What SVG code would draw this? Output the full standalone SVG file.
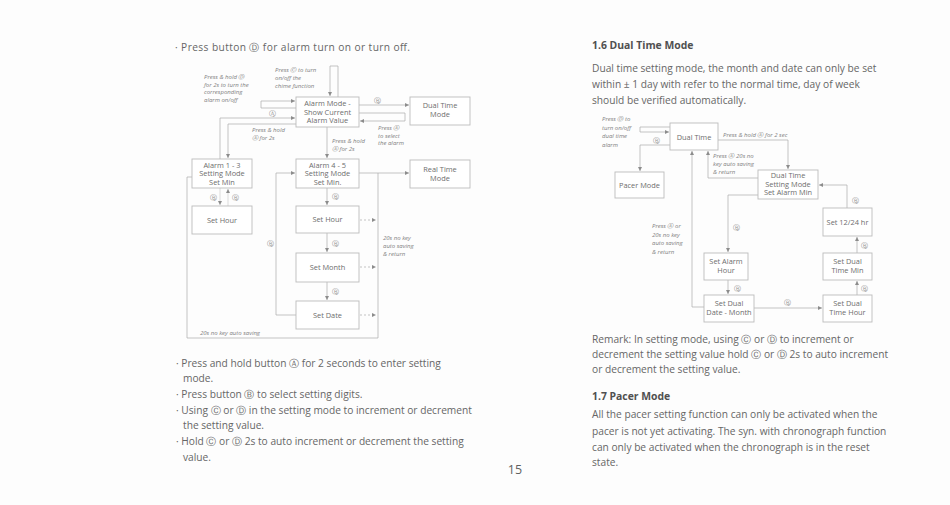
<svg xmlns="http://www.w3.org/2000/svg" width="950" height="505" viewBox="0 0 950 505">
<defs>
<marker id="ah" viewBox="0 0 6 6" refX="6" refY="3" markerWidth="4" markerHeight="4" markerUnits="userSpaceOnUse" orient="auto"><path d="M0,0 L6,3 L0,6 z" fill="#8c8c8c"/></marker>
<style>
.body{font-family:"Open Sans","Noto Sans","DejaVu Sans",sans-serif;font-size:10.2px;fill:#666666}
.h{font-family:"Open Sans","Noto Sans","DejaVu Sans",sans-serif;font-size:10.4px;font-weight:bold;fill:#505050}
.pn{font-family:"Open Sans","Noto Sans",sans-serif;font-size:12.5px;fill:#606060}
.box{fill:#ffffff;stroke:#bcbcbc;stroke-width:0.9}
.bt{font-family:"Open Sans","Noto Sans","DejaVu Sans",sans-serif;font-size:7.4px;fill:#6e6e6e;text-anchor:middle}
.lb{font-family:"Open Sans","Noto Sans","DejaVu Sans",sans-serif;font-size:6px;font-style:italic;fill:#808080}
.ck{font-family:"DejaVu Sans",sans-serif;font-size:7px;fill:#909090;text-anchor:middle}
.ln{fill:none;stroke:#ababab;stroke-width:0.7}
.fa{fill:none;stroke:#c6c6c6;stroke-width:0.6}
.da{fill:none;stroke:#ababab;stroke-width:0.7;stroke-dasharray:2 2}
</style>
</defs>
<rect width="950" height="505" fill="#fdfdfd"/>

<!-- Left page text -->
<g id="left-text">
<text class="body" x="175" y="51" textLength="235" lengthAdjust="spacing">· Press button Ⓓ for alarm turn on or turn off.</text>
<text class="body" x="176" y="367">· Press and hold button Ⓐ for 2 seconds to enter setting</text>
<text class="body" x="183" y="382">mode.</text>
<text class="body" x="176" y="398">· Press button Ⓑ to select setting digits.</text>
<text class="body" x="176" y="414">· Using Ⓒ or Ⓓ in the setting mode to increment or decrement</text>
<text class="body" x="183" y="429">the setting value.</text>
<text class="body" x="176" y="445">· Hold Ⓒ or Ⓓ 2s to auto increment or decrement the setting</text>
<text class="body" x="183" y="461">value.</text>
<text class="pn" x="515" y="474" text-anchor="middle">15</text>
</g>

<!-- Right page text -->
<g id="right-text">
<text class="h" x="592" y="49">1.6 Dual Time Mode</text>
<text class="body" x="592" y="72">Dual time setting mode, the month and date can only be set</text>
<text class="body" x="592" y="88">within ± 1 day with refer to the normal time, day of week</text>
<text class="body" x="592" y="104">should be verified automatically.</text>
<text class="body" x="592" y="343">Remark: In setting mode, using Ⓒ or Ⓓ to increment or</text>
<text class="body" x="592" y="358">decrement the setting value hold Ⓒ or Ⓓ 2s to auto increment</text>
<text class="body" x="592" y="373">or decrement the setting value.</text>
<text class="h" x="592" y="400">1.7 Pacer Mode</text>
<text class="body" x="592" y="418">All the pacer setting function can only be activated when the</text>
<text class="body" x="592" y="435">pacer is not yet activating. The syn. with chronograph function</text>
<text class="body" x="592" y="451">can only be activated when the chronograph is in the reset</text>
<text class="body" x="592" y="466">state.</text>
</g>

<!-- Left diagram connectors -->
<g id="connectors-left">
<path class="ln" d="M338,97 V66 H330 V96" marker-end="url(#ah)"/>
<path class="ln" d="M296,108 H261 V101 H295" marker-end="url(#ah)"/>
<path class="ln" d="M220,159 V118 H295" marker-end="url(#ah)"/>
<path class="ln" d="M296,124 H228 V158" marker-end="url(#ah)"/>
<path class="ln" d="M327,127 V158" marker-end="url(#ah)"/>
<path class="ln" d="M359,105 H409" marker-end="url(#ah)"/>
<path class="ln" d="M359,113 H405 V121 H360" marker-end="url(#ah)"/>
<path class="ln" d="M359,173 H409" marker-end="url(#ah)"/>
<path class="ln" d="M378,173 V338 H187 V177 H192"/>
<path class="da" d="M360,220 H376" marker-end="url(#ah)"/>
<path class="da" d="M360,267 H376" marker-end="url(#ah)"/>
<path class="da" d="M360,315 H376" marker-end="url(#ah)"/>
<path class="ln" d="M327,188 V205" marker-end="url(#ah)"/>
<path class="ln" d="M327,233 V252" marker-end="url(#ah)"/>
<path class="ln" d="M327,282 V300" marker-end="url(#ah)"/>
<path class="ln" d="M296,315 H276 V173 H295" marker-end="url(#ah)"/>
<path class="fa" d="M220,188 V205" marker-end="url(#ah)"/>
<path class="fa" d="M228,206 V189" marker-end="url(#ah)"/>
</g>

<!-- Left diagram labels -->
<g id="labels-left">
<text class="lb" x="275" y="72">Press Ⓒ to turn</text>
<text class="lb" x="275" y="80">on/off the</text>
<text class="lb" x="275" y="88">chime function</text>
<text class="lb" x="204" y="79">Press &amp; hold Ⓓ</text>
<text class="lb" x="204" y="86.5">for 2s to turn the</text>
<text class="lb" x="204" y="94">corresponding</text>
<text class="lb" x="204" y="101.5">alarm on/off</text>
<text class="ck" x="272" y="116">Ⓐ</text>
<text class="lb" x="252" y="132">Press &amp; hold</text>
<text class="lb" x="252" y="140">Ⓐ for 2s</text>
<text class="lb" x="332" y="143">Press &amp; hold</text>
<text class="lb" x="332" y="151">Ⓐ for 2s</text>
<text class="ck" x="377" y="103">Ⓑ</text>
<text class="lb" x="378" y="130">Press Ⓐ</text>
<text class="lb" x="378" y="137.5">to select</text>
<text class="lb" x="378" y="145">the alarm</text>
<text class="ck" x="213" y="200">Ⓑ</text>
<text class="ck" x="235" y="200">Ⓑ</text>
<text class="ck" x="335" y="199">Ⓑ</text>
<text class="ck" x="335" y="246">Ⓑ</text>
<text class="ck" x="335" y="294">Ⓑ</text>
<text class="ck" x="270" y="246">Ⓑ</text>
<text class="lb" x="383" y="240">20s no key</text>
<text class="lb" x="383" y="248">auto saving</text>
<text class="lb" x="383" y="256">&amp; return</text>
<text class="lb" x="200" y="335">20s no key auto saving</text>
</g>

<!-- Left diagram nodes -->
<g id="alarm-mode"><rect class="box" x="296" y="97" width="63" height="30"/>
<text class="bt" x="327.5" y="106">Alarm Mode -</text><text class="bt" x="327.5" y="114.5">Show Current</text><text class="bt" x="327.5" y="123">Alarm Value</text></g>
<g id="dual-time-mode-l"><rect class="box" x="410" y="97" width="60" height="28"/>
<text class="bt" x="440" y="107.5">Dual Time</text><text class="bt" x="440" y="116.5">Mode</text></g>
<g id="alarm-1-3"><rect class="box" x="192" y="159" width="60" height="29"/>
<text class="bt" x="222" y="167.5">Alarm 1 - 3</text><text class="bt" x="222" y="176">Setting Mode</text><text class="bt" x="222" y="184.5">Set Min</text></g>
<g id="alarm-4-5"><rect class="box" x="296" y="159" width="63" height="29"/>
<text class="bt" x="327.5" y="167.5">Alarm 4 - 5</text><text class="bt" x="327.5" y="176">Setting Mode</text><text class="bt" x="327.5" y="184.5">Set Min.</text></g>
<g id="real-time-mode"><rect class="box" x="410" y="160" width="60" height="28"/>
<text class="bt" x="440" y="171.5">Real Time</text><text class="bt" x="440" y="180.5">Mode</text></g>
<g id="set-hour-l"><rect class="box" x="192" y="206" width="60" height="28"/>
<text class="bt" x="222" y="222.5">Set Hour</text></g>
<g id="set-hour-m"><rect class="box" x="296" y="206" width="63" height="27"/>
<text class="bt" x="327.5" y="222">Set Hour</text></g>
<g id="set-month"><rect class="box" x="296" y="253" width="63" height="29"/>
<text class="bt" x="327.5" y="270">Set Month</text></g>
<g id="set-date"><rect class="box" x="296" y="301" width="63" height="28"/>
<text class="bt" x="327.5" y="317.5">Set Date</text></g>

<!-- Right diagram connectors -->
<g id="connectors-right">
<path class="ln" d="M670,127 H640 V132 H669" marker-end="url(#ah)"/>
<path class="ln" d="M670,145 H640 V171" marker-end="url(#ah)"/>
<path class="ln" d="M718,140 H788 V169" marker-end="url(#ah)"/>
<path class="ln" d="M758,178 H708 V151" marker-end="url(#ah)"/>
<path class="ln" d="M704,307 H692 V151" marker-end="url(#ah)"/>
<path class="ln" d="M758,195 H728 V252" marker-end="url(#ah)"/>
<path class="ln" d="M728,280 V294" marker-end="url(#ah)"/>
<path class="ln" d="M754,308 H822" marker-end="url(#ah)"/>
<path class="ln" d="M857,295 V281" marker-end="url(#ah)"/>
<path class="ln" d="M857,253 V237" marker-end="url(#ah)"/>
<path class="ln" d="M847,208 V185 H819" marker-end="url(#ah)"/>
</g>

<!-- Right diagram labels -->
<g id="labels-right">
<text class="lb" x="602" y="121">Press Ⓓ to</text>
<text class="lb" x="602" y="129.5">turn on/off</text>
<text class="lb" x="602" y="138">dual time</text>
<text class="lb" x="602" y="146.5">alarm</text>
<text class="ck" x="656" y="143">Ⓑ</text>
<text class="lb" x="723" y="137">Press &amp; hold Ⓐ for 2 sec</text>
<text class="lb" x="713" y="158">Press Ⓐ 20s no</text>
<text class="lb" x="713" y="166">key auto saving</text>
<text class="lb" x="713" y="174">&amp; return</text>
<text class="lb" x="652" y="228">Press Ⓐ or</text>
<text class="lb" x="652" y="236.5">20s no key</text>
<text class="lb" x="652" y="245">auto saving</text>
<text class="lb" x="652" y="253.5">&amp; return</text>
<text class="ck" x="736" y="230">Ⓑ</text>
<text class="ck" x="737" y="291">Ⓑ</text>
<text class="ck" x="787" y="305">Ⓑ</text>
<text class="ck" x="864" y="291">Ⓑ</text>
<text class="ck" x="864" y="248">Ⓑ</text>
<text class="ck" x="855" y="203">Ⓑ</text>
</g>

<!-- Right diagram nodes -->
<g id="dual-time"><rect class="box" x="670" y="123" width="48" height="27"/>
<text class="bt" x="694" y="139.5">Dual Time</text></g>
<g id="pacer-mode"><rect class="box" x="615" y="172" width="49" height="26"/>
<text class="bt" x="639.5" y="188">Pacer Mode</text></g>
<g id="dual-time-setting"><rect class="box" x="758" y="170" width="60" height="29"/>
<text class="bt" x="788" y="178">Dual Time</text><text class="bt" x="788" y="186.5">Setting Mode</text><text class="bt" x="788" y="195">Set Alarm Min</text></g>
<g id="set-alarm-hour"><rect class="box" x="704" y="253" width="44" height="27"/>
<text class="bt" x="726" y="264">Set Alarm</text><text class="bt" x="726" y="273">Hour</text></g>
<g id="set-dual-date-month"><rect class="box" x="704" y="295" width="50" height="27"/>
<text class="bt" x="729" y="306">Set Dual</text><text class="bt" x="729" y="315">Date - Month</text></g>
<g id="set-dual-time-hour"><rect class="box" x="823" y="295" width="49" height="27"/>
<text class="bt" x="847.5" y="306">Set Dual</text><text class="bt" x="847.5" y="315">Time Hour</text></g>
<g id="set-dual-time-min"><rect class="box" x="823" y="253" width="49" height="27"/>
<text class="bt" x="847.5" y="264">Set Dual</text><text class="bt" x="847.5" y="273">Time Min</text></g>
<g id="set-12-24"><rect class="box" x="823" y="208" width="49" height="28"/>
<text class="bt" x="847.5" y="224.5">Set 12/24 hr</text></g>
</svg>
